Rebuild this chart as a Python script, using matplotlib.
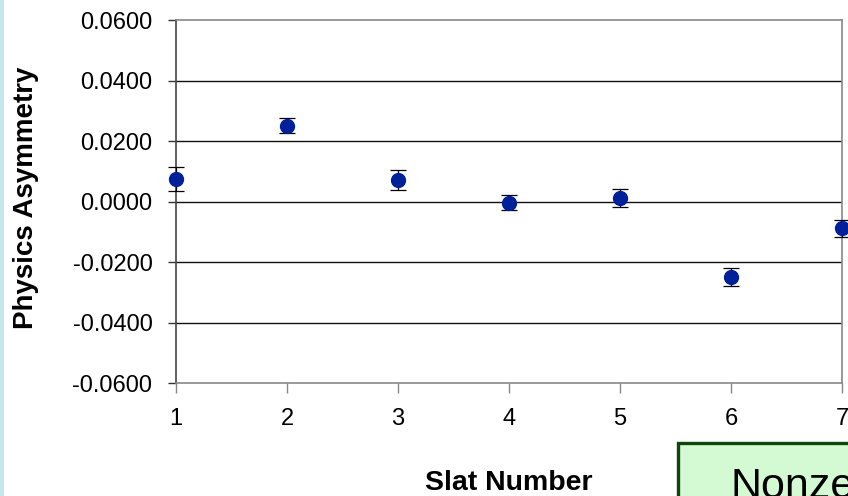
import matplotlib
matplotlib.use("Agg")
import matplotlib.pyplot as plt
from matplotlib.patches import Rectangle

plt.rcParams['font.family'] = ['Liberation Sans', 'DejaVu Sans']

# Data
slats = [1, 2, 3, 4, 5, 6, 7]
asym = [0.0074, 0.0251, 0.0070, -0.0004, 0.0011, -0.0249, -0.0089]
asym_err = [0.0040, 0.0024, 0.0033, 0.0025, 0.0029, 0.0030, 0.0029]
y_ticks = [-0.06, -0.04, -0.02, 0.0, 0.02, 0.04, 0.06]
y_tick_labels = ["-0.0600", "-0.0400", "-0.0200", "0.0000", "0.0200", "0.0400", "0.0600"]
x_ticks = [1, 2, 3, 4, 5, 6, 7]
x_tick_labels = ["1", "2", "3", "4", "5", "6", "7"]
note_text = "Nonzero"

W, H = 848, 496
fig = plt.figure(figsize=(W / 100, H / 100), dpi=100)
fig.patch.set_facecolor('white')

ax = fig.add_axes([176 / W, 1 - 383 / H, (842 - 176) / W, (383 - 20) / H])
ax.set_xlim(1, 7)
ax.set_ylim(-0.06, 0.06)

# gridlines (inner)
for yv in y_ticks[1:-1]:
    ax.axhline(yv, color='#111111', lw=1.0, zorder=1)

ax.errorbar(slats, asym, yerr=asym_err, fmt='o', color='#00209a',
            markersize=10, ecolor='black', elinewidth=0.9, capsize=5.5,
            capthick=0.9, zorder=3, clip_on=False)

ax.set_yticks(y_ticks)
ax.set_yticklabels(y_tick_labels)
ax.set_xticks(x_ticks)
ax.set_xticklabels(x_tick_labels)

ax.tick_params(axis='y', direction='out', length=6, width=1, color='#333333',
               labelsize=17, pad=11)
ax.tick_params(axis='x', direction='out', length=7, width=1, color='#888888',
               labelsize=17, pad=11)

ax.spines['left'].set_color('#444444')
ax.spines['bottom'].set_color('#888888')
ax.spines['top'].set_color('#888888')
ax.spines['right'].set_color('#888888')
for s in ax.spines.values():
    s.set_linewidth(1.2)

ax.set_xlabel('Slat Number', fontsize=20.5, fontweight='bold', va='baseline')
ax.xaxis.set_label_coords(509 / W, 1 - 490 / H, transform=fig.transFigure)
ax.set_ylabel('Physics Asymmetry', fontsize=20, fontweight='bold',
              va='center', ha='center')
ax.yaxis.set_label_coords(26 / W, 1 - 198 / H, transform=fig.transFigure)

# light blue strip at the left edge
fig.patches.append(Rectangle((0, 0), 4 / W, 1, transform=fig.transFigure,
                             facecolor='#c6e6ee', edgecolor='none', zorder=0))

# green note box (cropped at the figure edge, as in the reference)
fig.patches.append(Rectangle((678 / W, -0.2), 0.5, 0.2 + (1 - 443 / H),
                             transform=fig.transFigure, facecolor='#d4fad4',
                             edgecolor='#0b460b', linewidth=2.4, zorder=5))
fig.text(730 / W, 1 - 498 / H, note_text, fontsize=31, color='black',
         ha='left', va='baseline', zorder=6)

fig.savefig('out.png', dpi=100)
